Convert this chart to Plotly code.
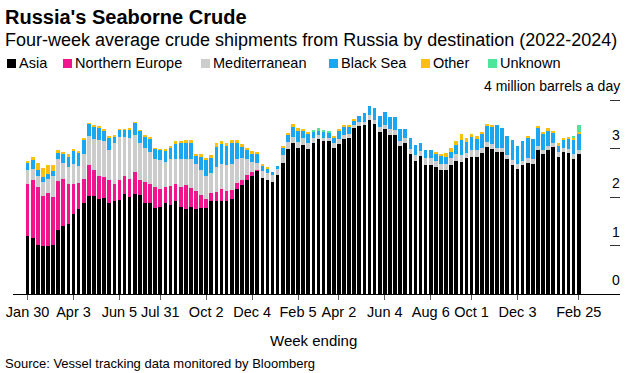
import pandas as pd
import plotly.graph_objects as go

# ---- data (million barrels a day, four-week average) ----
weeks = pd.date_range("2022-01-30", "2024-02-25", freq="7D")

asia = [1.20, 1.16, 1.02, 0.99, 1.00, 1.02, 1.33, 1.40, 1.44, 1.66,
        1.75, 1.88, 2.03, 2.02, 1.97, 1.99, 1.87, 1.93, 1.95, 2.06,
        2.01, 2.06, 2.04, 1.87, 1.87, 1.78, 1.79, 1.87, 1.84, 1.92,
        1.80, 1.76, 1.80, 1.76, 1.78, 1.78, 1.93, 1.91, 1.91, 1.92,
        1.97, 2.16, 2.26, 2.35, 2.43, 2.54, 2.40, 2.35, 2.32, 2.45,
        2.71, 3.00, 3.11, 3.02, 3.07, 3.00, 3.11, 3.20, 3.16, 3.16,
        3.01, 3.09, 3.19, 3.21, 3.42, 3.47, 3.48, 3.60, 3.51, 3.35,
        3.40, 3.29, 3.29, 3.05, 3.12, 2.90, 2.75, 2.85, 2.67, 2.66,
        2.63, 2.57, 2.55, 2.66, 2.75, 2.73, 2.80, 2.82, 2.82, 2.91,
        3.04, 2.99, 2.93, 2.93, 2.78, 2.67, 2.59, 2.66, 2.71, 2.69,
        2.97, 2.90, 2.97, 3.04, 2.82, 2.93, 2.91, 2.78, 2.90]
northern_europe = [1.08, 1.19, 1.18, 1.03, 1.08, 0.99, 1.00, 0.98, 0.84, 0.61,
                   0.55, 0.50, 0.63, 0.55, 0.46, 0.43, 0.48, 0.35, 0.40, 0.37,
                   0.37, 0.46, 0.31, 0.44, 0.41, 0.43, 0.37, 0.33, 0.39, 0.35,
                   0.40, 0.48, 0.38, 0.36, 0.26, 0.19, 0.15, 0.19, 0.25, 0.21,
                   0.17, 0.14, 0.10, 0.10, 0.09, 0.01] + [0.0] * 63
mediterranean = [0.28, 0.24, 0.23, 0.30, 0.30, 0.42, 0.45, 0.33, 0.35, 0.41,
                 0.35, 0.52, 0.60, 0.62, 0.75, 0.74, 0.63, 0.83, 0.89, 0.81,
                 0.85, 0.77, 0.76, 0.71, 0.65, 0.57, 0.60, 0.53, 0.55, 0.52,
                 0.58, 0.55, 0.60, 0.56, 0.52, 0.46, 0.42, 0.52, 0.52, 0.53,
                 0.55, 0.48, 0.44, 0.33, 0.21, 0.16, 0.14, 0.15, 0.13, 0.14,
                 0.16, 0.14, 0.13, 0.12, 0.14, 0.11, 0.10, 0.08, 0.07, 0.07,
                 0.10, 0.10, 0.09, 0.09, 0.06, 0.08, 0.07, 0.09, 0.09, 0.10,
                 0.08, 0.11, 0.09, 0.11, 0.10, 0.10, 0.12, 0.10, 0.13, 0.14,
                 0.12, 0.11, 0.13, 0.14, 0.14, 0.14, 0.11, 0.15, 0.15, 0.11,
                 0.09, 0.10, 0.09, 0.09, 0.09, 0.09, 0.09, 0.09, 0.09, 0.09,
                 0.08, 0.07, 0.08, 0.07, 0.11, 0.09, 0.09, 0.12, 0.07]
black_sea = [0.16, 0.17, 0.14, 0.10, 0.09, 0.11, 0.13, 0.17, 0.20, 0.28,
             0.28, 0.29, 0.25, 0.26, 0.25, 0.22, 0.25, 0.15, 0.15, 0.15,
             0.17, 0.24, 0.26, 0.23, 0.28, 0.22, 0.22, 0.24, 0.24, 0.31,
             0.34, 0.33, 0.34, 0.17, 0.27, 0.33, 0.30, 0.42, 0.41, 0.40,
             0.43, 0.34, 0.25, 0.20, 0.18, 0.18, 0.11, 0.09, 0.07, 0.05,
             0.15, 0.14, 0.21, 0.24, 0.16, 0.20, 0.14, 0.10, 0.12, 0.10,
             0.13, 0.18, 0.17, 0.16, 0.11, 0.13, 0.18, 0.20, 0.23, 0.23,
             0.27, 0.26, 0.28, 0.24, 0.18, 0.21, 0.20, 0.17, 0.17, 0.17,
             0.15, 0.17, 0.15, 0.13, 0.18, 0.31, 0.23, 0.29, 0.25, 0.29,
             0.33, 0.36, 0.46, 0.40, 0.39, 0.42, 0.37, 0.41, 0.43, 0.41,
             0.39, 0.33, 0.33, 0.22, 0.14, 0.16, 0.19, 0.28, 0.34]
other = [0.02, 0.06, 0.14, 0.19, 0.20, 0.13, 0.07, 0.05, 0.05, 0.04,
         0.01, 0.01, 0.01, 0.03, 0.03, 0.02, 0.03, 0.03, 0.01, 0.01,
         0.01, 0.01, 0.01, 0.02, 0.03, 0.01, 0.01, 0.03, 0.04, 0.06,
         0.04, 0.06, 0.06, 0.05, 0.07, 0.05, 0.07, 0.07, 0.06, 0.06,
         0.05, 0.06, 0.04, 0.04, 0.04, 0.04, 0.04, 0.04, 0.00, 0.00,
         0.03, 0.05, 0.06, 0.04, 0.03, 0.03, 0.00, 0.00, 0.00, 0.00,
         0.03, 0.03, 0.03, 0.03, 0.01, 0.00, 0.00, 0.00, 0.00, 0.00,
         0.00, 0.00, 0.00, 0.00, 0.00, 0.00, 0.00, 0.00, 0.00, 0.00,
         0.04, 0.03, 0.09, 0.08, 0.09, 0.13, 0.07, 0.04, 0.04, 0.04,
         0.05, 0.03, 0.00, 0.00, 0.00, 0.00, 0.00, 0.00, 0.03, 0.00,
         0.03, 0.05, 0.04, 0.04, 0.04, 0.04, 0.05, 0.04, 0.04]
unknown = [0.0] * 56 + [0.03, 0.04, 0.03, 0.02] + [0.0] * 47 + [0.05, 0.13]

tick_dates = ["2022-01-30", "2022-04-03", "2022-06-05", "2022-07-31", "2022-10-02",
              "2022-12-04", "2023-02-05", "2023-04-02", "2023-06-04", "2023-08-06",
              "2023-10-01", "2023-12-03", "2024-02-25"]
tick_labels = ["Jan 30", "Apr 3", "Jun 5", "Jul 31", "Oct 2", "Dec 4", "Feb 5",
               "Apr 2", "Jun 4", "Aug 6", "Oct 1", "Dec 3", "Feb 25"]
y_ticks = [0, 1, 2, 3, 4]
y_tick_labels = ["0", "1", "2", "3", "4 million barrels a day"]

series = [("Asia", asia, "#000000"),
          ("Northern Europe", northern_europe, "#f0158d"),
          ("Mediterranean", mediterranean, "#cccccc"),
          ("Black Sea", black_sea, "#1ba6f0"),
          ("Other", other, "#fbc00f"),
          ("Unknown", unknown, "#4ee59a")]

FONT = "Liberation Sans"
W, H = 633, 373
L, R, T, B = 13, 13, 76, 79

fig = go.Figure()
for name, vals, col in series:
    fig.add_trace(go.Bar(x=weeks, y=vals, name=name, marker=dict(color=col, line=dict(width=0)),
                         showlegend=False))

pw = W - L - R
ph = H - T - B
def px(x):
    return (x - L) / pw
def py(y):
    return (H - B - y) / ph

annotations = [
    dict(text="<b>Russia's Seaborne Crude</b>", x=px(3), y=py(17), xanchor="left", yanchor="middle",
         font=dict(size=20, color="#000")),
    dict(text="Four-week average crude shipments from Russia by destination (2022-2024)",
         x=px(3), y=py(40), xanchor="left", yanchor="middle", font=dict(size=18, color="#000")),
    dict(text="Week ending", x=px(313), y=py(340), xanchor="center", yanchor="middle",
         font=dict(size=15, color="#000")),
    dict(text="Source: Vessel tracking data monitored by Bloomberg", x=px(3), y=py(363),
         xanchor="left", yanchor="middle", font=dict(size=13, color="#000")),
]
for a in annotations:
    a.update(xref="paper", yref="paper", showarrow=False)

shapes = []
leg_x = [7, 63, 201, 329, 421, 488]
for (name, vals, col), lx in zip(series, leg_x):
    shapes.append(dict(type="rect", xref="paper", yref="paper", x0=px(lx), x1=px(lx + 9),
                       y0=py(68), y1=py(59), fillcolor=col, line=dict(width=0)))
    annotations.append(dict(text=name, x=px(lx + 10), y=py(63.5), xanchor="left", yanchor="middle",
                            xref="paper", yref="paper", showarrow=False,
                            font=dict(size=14.5, color="#000")))

# y tick labels sit above their tick marks, right-aligned at the axis
for v, lab in zip(y_ticks, y_tick_labels):
    annotations.append(dict(text=lab, x=1, y=v, xref="paper", yref="y", xanchor="right",
                            yanchor="bottom", yshift=4, xshift=2, showarrow=False,
                            font=dict(size=14, color="#000")))

fig.update_layout(
    width=W, height=H, margin=dict(l=L, r=R, t=T, b=B, autoexpand=False),
    paper_bgcolor="white", plot_bgcolor="white",
    barmode="stack", bargap=0.28,
    font=dict(family=FONT, color="#000"),
    annotations=annotations, shapes=shapes,
    xaxis=dict(type="date", range=["2022-01-10", "2024-04-21 14:00"],
               tickvals=tick_dates, ticktext=tick_labels, ticks="outside", ticklen=5,
               tickcolor="#666", tickwidth=1, showline=True, linecolor="#000", linewidth=1,
               showgrid=False, zeroline=False, tickfont=dict(size=14.5, color="#000")),
    yaxis=dict(side="right", range=[0, 4.5], tickvals=y_ticks, showticklabels=False,
               ticks="inside", ticklen=10, tickcolor="#333", tickwidth=1,
               showgrid=False, zeroline=False, showline=False),
)
fig.write_html("out.html", config={"displayModeBar": False},
               post_script="document.body.style.margin='0';")
